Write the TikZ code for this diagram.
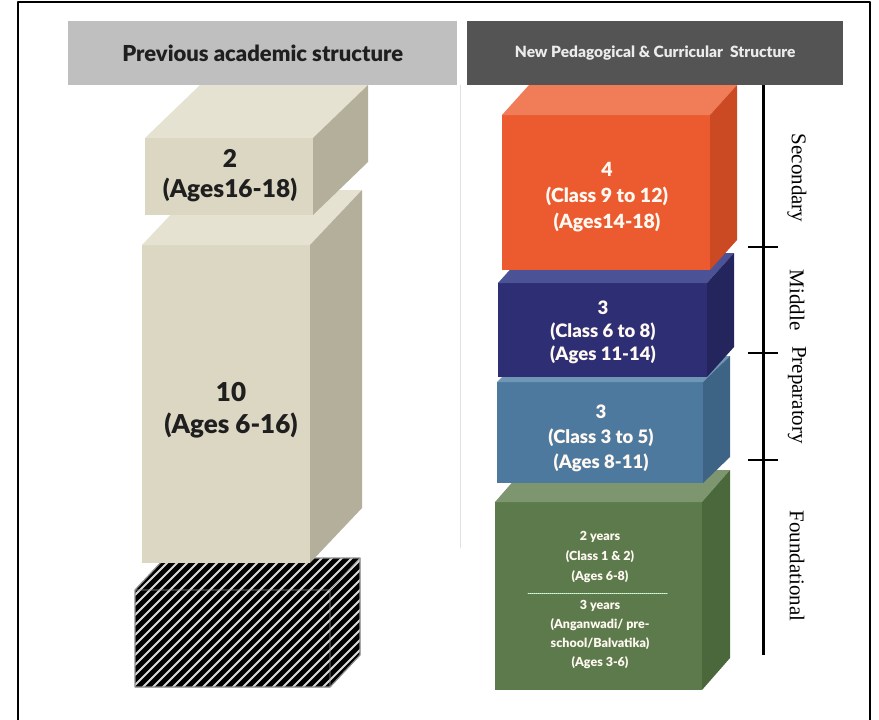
\documentclass[tikz,border=0pt]{standalone}
\usepackage{fontspec}
\setmainfont{Lato}
\newfontfamily\heavy{Lato Black}
\newfontfamily\tnr{Liberation Serif}

\definecolor{oldFront}{HTML}{DCD7C3}
\definecolor{oldTop}{HTML}{E6E2D2}
\definecolor{oldSide}{HTML}{B4AF9B}
\definecolor{orFront}{HTML}{EC5A30}
\definecolor{orTop}{HTML}{F07C58}
\definecolor{orSide}{HTML}{CB4A24}
\definecolor{nvFront}{HTML}{2D2E73}
\definecolor{nvTop}{HTML}{4B5296}
\definecolor{nvSide}{HTML}{23255C}
\definecolor{blFront}{HTML}{4E799F}
\definecolor{blTop}{HTML}{7096B5}
\definecolor{blSide}{HTML}{3E6485}
\definecolor{grFront}{HTML}{5C7A4B}
\definecolor{grTop}{HTML}{7E9670}
\definecolor{grSide}{HTML}{4A683B}

% x y width height dx dy front top side
\newcommand{\slab}[9]{%
  \fill[#7] (#1,#2) rectangle ++(#3,#4);
  \fill[#8] (#1,#2) -- ++(#5,#6) -- ++(#3,0) -- ++({-1*(#5)},{-1*(#6)}) -- cycle;
  \fill[#9] (#1,#2) ++(#3,0) -- ++(#5,#6) -- ++(0,#4) -- ++({-1*(#5)},{-1*(#6)}) -- cycle;
}

\begin{document}
\begin{tikzpicture}[x=1pt,y=-1pt,line cap=round,line join=round,
  darktxt/.style={text=black!88,align=center,inner sep=0pt},
  lighttxt/.style={text=white!95!orange,align=center,inner sep=0pt},
  stagelbl/.style={font=\tnr\fontsize{21}{22}\selectfont,rotate=-90,inner sep=0pt}]
\useasboundingbox (0,0) rectangle (879,720);

\draw[line width=1.6pt] (18,720) -- (18,2) -- (870,2) -- (870,720);

\node[fill=black!25,minimum width=389pt,minimum height=64pt,anchor=north west,inner sep=0pt] (prevhead) at (68,21) {};
\node[darktxt,font=\heavy\fontsize{22}{26}\selectfont] at (prevhead.center) {Previous academic structure};
\node[fill=black!67,minimum width=376pt,minimum height=64pt,anchor=north west,inner sep=0pt] (newhead) at (467,21) {};
\node[lighttxt,text=black!8,font=\heavy\fontsize{15.5}{18}\selectfont] at (newhead.center) {New Pedagogical \& Curricular\ \ Structure};

\draw[black!12,line width=0.8pt] (460,85) -- (460,548);

% hatched base
\begin{scope}
\clip (135,687) -- (135,590) -- (165,558) -- (360,558) -- (360,655) -- (330,687) -- cycle;
\fill[black] (130,550) rectangle (365,692);
\foreach \s in {0,10,...,360}
  \draw[white!85!black,line width=2pt] (\s,700) -- ++(170,-170);
\end{scope}
\draw[black!45,line width=1.2pt] (135,687) -- (135,590) -- (165,558) -- (360,558) -- (360,655) -- (330,687) -- cycle;
\draw[black!40,line width=0.8pt] (135,590) -- (330,590) -- (330,687) (330,590) -- (360,558);

\slab{142}{245}{168}{318}{52}{-55}{oldFront}{oldTop}{oldSide}
\slab{145}{138}{168}{77}{55}{-53}{oldFront}{oldTop}{oldSide}

\node[darktxt,font=\heavy\fontsize{24.5}{30}\selectfont] (old2) at (230,176) {2\\(Ages16-18)};
\node[darktxt,font=\heavy\fontsize{26}{32}\selectfont] (old10) at (231,410) {10\\(Ages 6-16)};

\slab{495}{502}{207}{188}{28}{-32}{grFront}{grTop}{grSide}
\slab{497}{382}{206}{101}{27}{-26}{blFront}{blTop}{blSide}
\slab{498}{283}{209}{94}{27}{-30}{nvFront}{nvTop}{nvSide}
\slab{502}{115}{208}{155}{27}{-30}{orFront}{orTop}{orSide}

\node[lighttxt,font=\heavy\fontsize{19.5}{26}\selectfont] (sec) at (607,197) {4\\(Class 9 to 12)\\(Ages14-18)};
\node[lighttxt,font=\heavy\fontsize{18.5}{23}\selectfont] (mid) at (603,332) {3\\(Class 6 to 8)\\(Ages 11-14)};
\node[lighttxt,font=\heavy\fontsize{18.5}{25}\selectfont] (prep) at (601,438) {3\\(Class 3 to 5)\\(Ages 8-11)};
\node[lighttxt,font=\heavy\fontsize{12.5}{20}\selectfont] (fnd1) at (600,557) {2 years\\(Class 1 \& 2)\\(Ages 6-8)};
\draw[white!85!green,line width=1pt,dash pattern=on 1pt off 1pt] (528,593) -- (667,593);
\node[lighttxt,font=\heavy\fontsize{12.5}{19}\selectfont] (fnd2) at (600,635) {3 years\\(Anganwadi/ pre-\\school/Balvatika)\\(Ages 3-6)};

\draw[line width=3pt,line cap=butt] (763,85) -- (763,655);
\foreach \t in {247,353,460}
  \draw[line width=2.6pt,line cap=butt] (748,\t) -- (778,\t);

\node[stagelbl] (lsec) at (797,178) {Secondary};
\node[stagelbl] (lmid) at (797,300) {Middle};
\node[stagelbl] (lprep) at (797,395) {Preparatory};
\node[stagelbl] (lfnd) at (797,566) {Foundational};
\end{tikzpicture}
\end{document}
